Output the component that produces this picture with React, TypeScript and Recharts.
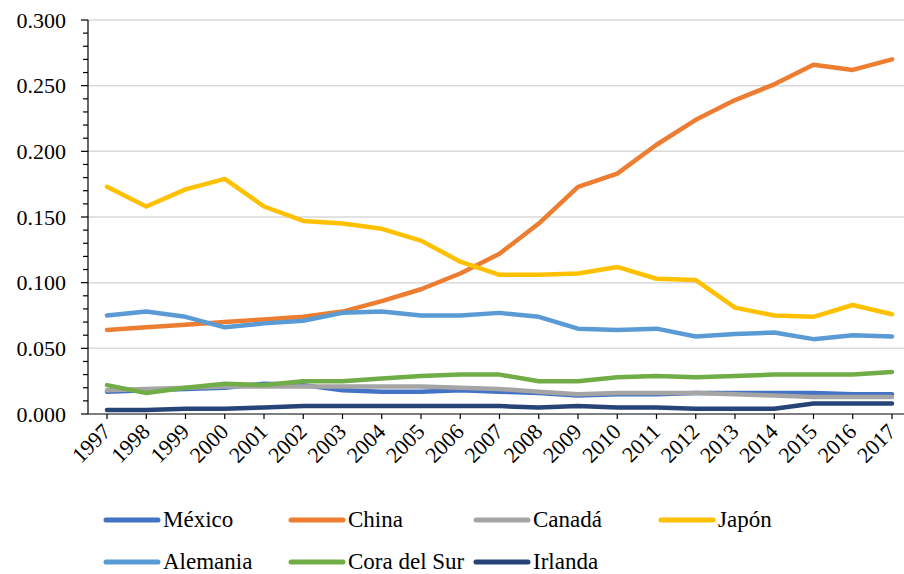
import React from 'react';
import { LineChart, Line, XAxis, YAxis, CartesianGrid, Legend } from 'recharts';

const years = [
  '1997', '1998', '1999', '2000', '2001', '2002', '2003', '2004', '2005', '2006', '2007',
  '2008', '2009', '2010', '2011', '2012', '2013', '2014', '2015', '2016', '2017',
];

const mexico = [0.017, 0.018, 0.019, 0.020, 0.023, 0.022, 0.018, 0.017, 0.017, 0.018, 0.017, 0.016, 0.014, 0.015, 0.015, 0.016, 0.016, 0.016, 0.016, 0.015, 0.015];
const china = [0.064, 0.066, 0.068, 0.070, 0.072, 0.074, 0.078, 0.086, 0.095, 0.107, 0.122, 0.145, 0.173, 0.183, 0.205, 0.224, 0.239, 0.251, 0.266, 0.262, 0.270];
const canada = [0.018, 0.019, 0.020, 0.021, 0.021, 0.021, 0.021, 0.021, 0.021, 0.020, 0.019, 0.017, 0.015, 0.016, 0.016, 0.016, 0.015, 0.014, 0.013, 0.013, 0.013];
const japon = [0.173, 0.158, 0.171, 0.179, 0.158, 0.147, 0.145, 0.141, 0.132, 0.116, 0.106, 0.106, 0.107, 0.112, 0.103, 0.102, 0.081, 0.075, 0.074, 0.083, 0.076];
const alemania = [0.075, 0.078, 0.074, 0.066, 0.069, 0.071, 0.077, 0.078, 0.075, 0.075, 0.077, 0.074, 0.065, 0.064, 0.065, 0.059, 0.061, 0.062, 0.057, 0.060, 0.059];
const coreaSur = [0.022, 0.016, 0.020, 0.023, 0.022, 0.025, 0.025, 0.027, 0.029, 0.030, 0.030, 0.025, 0.025, 0.028, 0.029, 0.028, 0.029, 0.030, 0.030, 0.030, 0.032];
const irlanda = [0.003, 0.003, 0.004, 0.004, 0.005, 0.006, 0.006, 0.006, 0.006, 0.006, 0.006, 0.005, 0.006, 0.005, 0.005, 0.004, 0.004, 0.004, 0.008, 0.008, 0.008];

// minor ticks every 0.01, labels and gridlines every 0.05
const yTicks = [
  0, 0.01, 0.02, 0.03, 0.04, 0.05, 0.06, 0.07, 0.08, 0.09, 0.1, 0.11, 0.12, 0.13, 0.14, 0.15,
  0.16, 0.17, 0.18, 0.19, 0.2, 0.21, 0.22, 0.23, 0.24, 0.25, 0.26, 0.27, 0.28, 0.29, 0.3,
];
const gridValues = [0.05, 0.1, 0.15, 0.2, 0.25, 0.3];

const series = [
  { key: 'mexico', name: 'México', color: '#4472C4', values: mexico },
  { key: 'china', name: 'China', color: '#ED7D31', values: china },
  { key: 'canada', name: 'Canadá', color: '#A5A5A5', values: canada },
  { key: 'japon', name: 'Japón', color: '#FFC000', values: japon },
  { key: 'alemania', name: 'Alemania', color: '#5B9BD5', values: alemania },
  { key: 'coreaSur', name: 'Cora del Sur', color: '#70AD47', values: coreaSur },
  { key: 'irlanda', name: 'Irlanda', color: '#264478', values: irlanda },
];

const chartData = years.map((year, i) => {
  const row: Record<string, string | number> = { year };
  series.forEach((s) => {
    row[s.key] = s.values[i];
  });
  return row;
});

const FONT = 'Liberation Serif, Tinos, Times New Roman, Times, DejaVu Serif, serif';
const AXIS_X = 88;

const YTick = (props: any) => {
  const { y, payload } = props;
  const v = payload.value as number;
  const major = Math.round(v * 1000) % 50 === 0;
  return (
    <g>
      <line x1={AXIS_X - (major ? 7 : 5)} x2={AXIS_X} y1={y} y2={y} stroke="#000" strokeWidth={1.2} />
      {major && (
        <text
          x={AXIS_X - 22}
          y={y}
          dy="0.35em"
          textAnchor="end"
          fill="#000"
          style={{ fontFamily: FONT, fontSize: 22 }}
        >
          {v.toFixed(3)}
        </text>
      )}
    </g>
  );
};

const XTick = (props: any) => {
  const { x, y, payload } = props;
  return (
    <text
      x={x + 5}
      y={y + 12}
      textAnchor="end"
      fill="#000"
      style={{ fontFamily: FONT, fontSize: 22 }}
      transform={`rotate(-45, ${x + 5}, ${y + 12})`}
    >
      {payload.value}
    </text>
  );
};

const LegendBox = () => (
  <div style={{ position: 'relative', width: 904, height: 74, fontFamily: FONT, fontSize: 23, color: '#000' }}>
    {series.map((s, i) => {
      const row = i < 4 ? 0 : 1;
      const col = i < 4 ? i : i - 4;
      return (
        <div
          key={s.key}
          style={{
            position: 'absolute',
            left: 103 + col * 185,
            top: row * 42,
            height: 40,
            display: 'flex',
            alignItems: 'center',
            whiteSpace: 'nowrap',
          }}
        >
          <svg width={58} height={8} style={{ display: 'block' }}>
            <line x1={3} y1={4} x2={55} y2={4} stroke={s.color} strokeWidth={5} strokeLinecap="round" />
          </svg>
          <span style={{ marginLeft: 2 }}>{s.name}</span>
        </div>
      );
    })}
  </div>
);

export default function App() {
  return (
    <div style={{ position: 'absolute', left: 0, top: 0, width: 904, height: 574, background: '#fff' }}>
      <LineChart width={904} height={574} data={chartData} margin={{ top: 20, right: 0, bottom: 0, left: 0 }}>
        <CartesianGrid horizontal vertical={false} horizontalValues={gridValues} stroke="#d9d9d9" strokeWidth={1.5} />
        <XAxis
          dataKey="year"
          interval={0}
          height={86}
          padding={{ left: 19, right: 12 }}
          axisLine={{ stroke: '#000', strokeWidth: 1.2 }}
          tickLine={{ stroke: '#000', strokeWidth: 1.2 }}
          tickSize={5}
          tick={<XTick />}
        />
        <YAxis
          width={AXIS_X}
          domain={[0, 0.3]}
          ticks={yTicks}
          interval={0}
          axisLine={{ stroke: '#000', strokeWidth: 1.2 }}
          tickLine={false}
          tick={<YTick />}
        />
        <Legend
          verticalAlign="bottom"
          align="left"
          height={74}
          wrapperStyle={{ left: 0, bottom: 0, width: 904 }}
          content={() => <LegendBox />}
        />
        {series.map((s) => (
          <Line
            key={s.key}
            type="linear"
            dataKey={s.key}
            name={s.name}
            stroke={s.color}
            strokeWidth={4.5}
            strokeLinecap="round"
            strokeLinejoin="round"
            dot={false}
            activeDot={false}
            isAnimationActive={false}
          />
        ))}
      </LineChart>
    </div>
  );
}
